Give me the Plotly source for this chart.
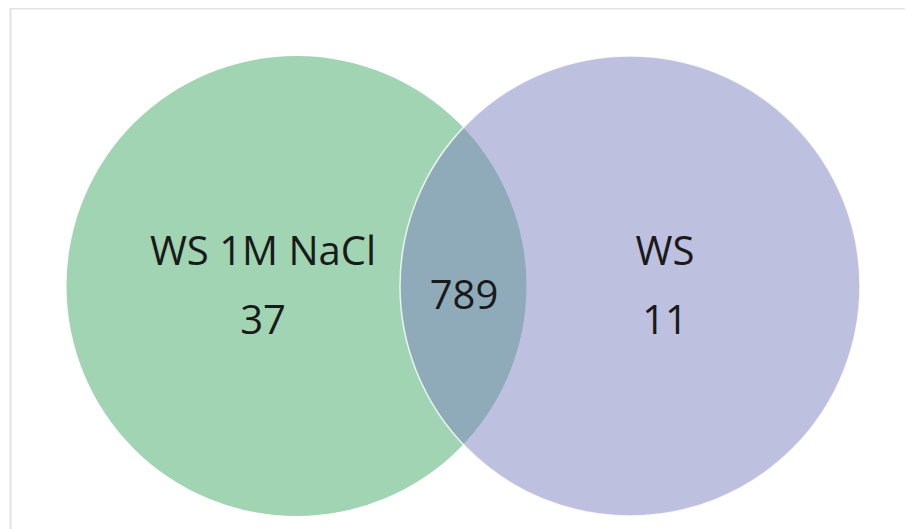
import plotly.graph_objects as go

# Venn data
set_names = ["WS 1M NaCl", "WS"]
only_counts = [37, 11]
shared_count = 789

# geometry in screen-pixel units (page body has an 8px margin)
centers_x = [296.5, 630]
center_y = 286
radius = 230
fills = ["#A0D4B2", "#7D81C1"]
opacities = [1.0, 0.5]

fig = go.Figure()

# frame
fig.add_shape(type="rect", x0=10.5, y0=8.5, x1=930, y1=560,
              line=dict(color="#E3E3E3", width=2), layer="below")

for cx, col, op in zip(centers_x, fills, opacities):
    fig.add_shape(type="circle", x0=cx - radius, x1=cx + radius,
                  y0=center_y - radius, y1=center_y + radius,
                  fillcolor=col, opacity=op, line=dict(width=0), layer="below")

# thin white edge of the second circle inside the overlap
fig.add_shape(type="circle", x0=centers_x[1] - radius, x1=centers_x[1] + radius,
              y0=center_y - radius, y1=center_y + radius,
              line=dict(color="rgba(255,255,255,0.8)", width=1.5), layer="below")

label_x = [263, 665, 464]
name_y = 255
count_y = 324
shared_y = 299

fig.add_trace(go.Scatter(
    x=label_x[:2] * 2 + [label_x[2]],
    y=[name_y, name_y, count_y, count_y, shared_y],
    text=set_names + [str(c) for c in only_counts] + [str(shared_count)],
    mode="text",
    textfont=dict(family="Open Sans", size=40, color="#1a1a1a"),
    hoverinfo="skip",
))

fig.update_layout(
    width=905, height=521,
    margin=dict(l=0, r=0, t=0, b=0),
    paper_bgcolor="white", plot_bgcolor="white",
    showlegend=False,
    xaxis=dict(range=[8, 913], visible=False, fixedrange=True),
    yaxis=dict(range=[529, 8], visible=False, fixedrange=True),
)

fig.write_html("out.html")
